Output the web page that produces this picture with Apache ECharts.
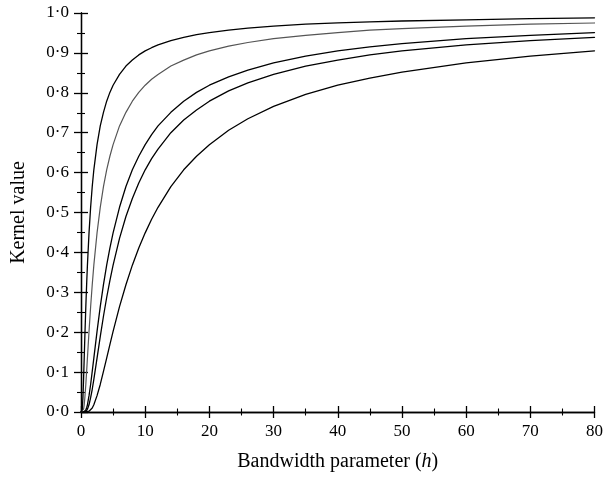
<!DOCTYPE html>
<html>
<head>
<meta charset="utf-8">
<script src="https://cdn.jsdelivr.net/npm/echarts@6/dist/echarts.min.js"></script>
<style>
  html, body { margin: 0; padding: 0; background: #fff; }
  #chart { width: 606px; height: 477px; }
</style>
</head>
<body>
<div id="chart"></div>
<script>
// Bandwidth values (h) at which the kernel curves are sampled
const bandwidth = [0, 0.2, 0.3, 0.4, 0.5, 0.6, 0.75, 0.9, 1, 1.25, 1.5, 1.75, 2, 2.5, 3, 3.5, 4, 4.5, 5, 6, 7, 8, 9, 10, 11, 12, 14, 16, 18, 20, 23, 26, 30, 35, 40, 45, 50, 60, 70, 80];

// Kernel value curves, one per separation distance
const kernelDist1 = [0, 0.007, 0.036, 0.082, 0.135, 0.189, 0.264, 0.329, 0.368, 0.449, 0.513, 0.565, 0.607, 0.670, 0.717, 0.751, 0.779, 0.801, 0.819, 0.846, 0.867, 0.882, 0.895, 0.905, 0.913, 0.920, 0.931, 0.939, 0.946, 0.951, 0.957, 0.962, 0.967, 0.972, 0.975, 0.978, 0.980, 0.983, 0.986, 0.988];
const kernelDist2 = [0, 0, 0.001, 0.007, 0.018, 0.036, 0.069, 0.108, 0.135, 0.202, 0.264, 0.319, 0.368, 0.449, 0.513, 0.565, 0.607, 0.641, 0.670, 0.717, 0.751, 0.779, 0.801, 0.819, 0.834, 0.846, 0.867, 0.882, 0.895, 0.905, 0.917, 0.926, 0.936, 0.944, 0.951, 0.957, 0.961, 0.967, 0.972, 0.975];
const kernelDist4 = [0, 0, 0, 0, 0, 0.001, 0.005, 0.012, 0.018, 0.041, 0.069, 0.102, 0.135, 0.202, 0.264, 0.319, 0.368, 0.411, 0.449, 0.513, 0.565, 0.607, 0.641, 0.670, 0.695, 0.717, 0.751, 0.779, 0.801, 0.819, 0.840, 0.857, 0.875, 0.892, 0.905, 0.915, 0.923, 0.936, 0.944, 0.951];
const kernelDist5 = [0, 0, 0, 0, 0, 0, 0.001, 0.004, 0.007, 0.018, 0.036, 0.057, 0.082, 0.135, 0.189, 0.240, 0.287, 0.329, 0.368, 0.435, 0.490, 0.535, 0.574, 0.607, 0.635, 0.659, 0.700, 0.732, 0.757, 0.779, 0.805, 0.825, 0.846, 0.867, 0.882, 0.895, 0.905, 0.920, 0.931, 0.939];
const kernelDist8 = [0, 0, 0, 0, 0, 0, 0, 0, 0, 0.002, 0.005, 0.010, 0.018, 0.041, 0.069, 0.102, 0.135, 0.169, 0.202, 0.264, 0.319, 0.368, 0.411, 0.449, 0.483, 0.513, 0.565, 0.607, 0.641, 0.670, 0.706, 0.735, 0.766, 0.796, 0.819, 0.837, 0.852, 0.875, 0.892, 0.905];

// Tick labels
const xTickLabels = ['0', '10', '20', '30', '40', '50', '60', '70', '80'];
const yTickLabels = ['0·0', '0·1', '0·2', '0·3', '0·4', '0·5', '0·6', '0·7', '0·8', '0·9', '1·0'];

const FONT = 'Liberation Serif';
const INK = '#000';

function pairs(values) {
  return bandwidth.map((h, i) => [h, values[i]]);
}

function curve(name, values, color, width) {
  return {
    name: name,
    type: 'line',
    xAxisIndex: 0,
    yAxisIndex: 0,
    data: pairs(values),
    showSymbol: false,
    smooth: false,
    lineStyle: { color: color, width: width, join: 'round', cap: 'round' },
    silent: true,
    animation: false
  };
}

// Shared x axis settings; two copies give ticks that cross the axis line
function xAxisDef(inside, showText) {
  return {
    type: 'value',
    min: 0, max: 80, interval: 10,
    position: 'bottom',
    name: showText ? 'Bandwidth parameter ({i|h})' : '',
    nameLocation: 'middle',
    nameGap: 40,
    nameTextStyle: {
      fontFamily: FONT, fontSize: 20, color: INK,
      rich: { i: { fontFamily: FONT, fontSize: 20, fontStyle: 'italic', color: INK } }
    },
    axisLine: { show: true, onZero: false, lineStyle: { color: INK, width: 1.3 } },
    axisTick: { show: true, inside: inside, length: 6, lineStyle: { color: INK, width: 1.3 } },
    minorTick: { show: true, splitNumber: 2, length: 3.5, lineStyle: { color: INK, width: 1.1 } },
    axisLabel: {
      show: showText, margin: 11, fontFamily: FONT, fontSize: 17, color: INK,
      formatter: (v) => xTickLabels[Math.round(v / 10)]
    },
    splitLine: { show: false },
    minorSplitLine: { show: false }
  };
}

function yAxisDef(inside, showText) {
  return {
    type: 'value',
    min: 0, max: 1, interval: 0.1,
    position: 'left',
    name: showText ? 'Kernel value' : '',
    nameLocation: 'middle',
    nameGap: 52,
    nameRotate: 90,
    nameTextStyle: { fontFamily: FONT, fontSize: 20, color: INK },
    axisLine: { show: true, onZero: false, lineStyle: { color: INK, width: 1.3 } },
    axisTick: { show: true, inside: inside, length: 7, lineStyle: { color: INK, width: 1.3 } },
    minorTick: { show: true, splitNumber: 2, length: 4, lineStyle: { color: INK, width: 1.1 } },
    axisLabel: {
      show: showText, margin: 12, fontFamily: FONT, fontSize: 17, color: INK,
      formatter: (v) => yTickLabels[Math.round(v * 10)]
    },
    splitLine: { show: false },
    minorSplitLine: { show: false }
  };
}

const chart = echarts.init(document.getElementById('chart'), null, { renderer: 'canvas' });

chart.setOption({
  animation: false,
  backgroundColor: '#fff',
  grid: { left: 81, right: 9, top: 13, bottom: 65, containLabel: false },
  xAxis: [xAxisDef(false, true), xAxisDef(true, false)],
  yAxis: [yAxisDef(false, true), yAxisDef(true, false)],
  series: [
    curve('distance 8', kernelDist8, '#000', 1.3),
    curve('distance 5', kernelDist5, '#000', 1.3),
    curve('distance 4', kernelDist4, '#000', 1.3),
    curve('distance 2', kernelDist2, '#555', 1.2),
    curve('distance 1', kernelDist1, '#000', 1.3)
  ]
});
</script>
</body>
</html>
